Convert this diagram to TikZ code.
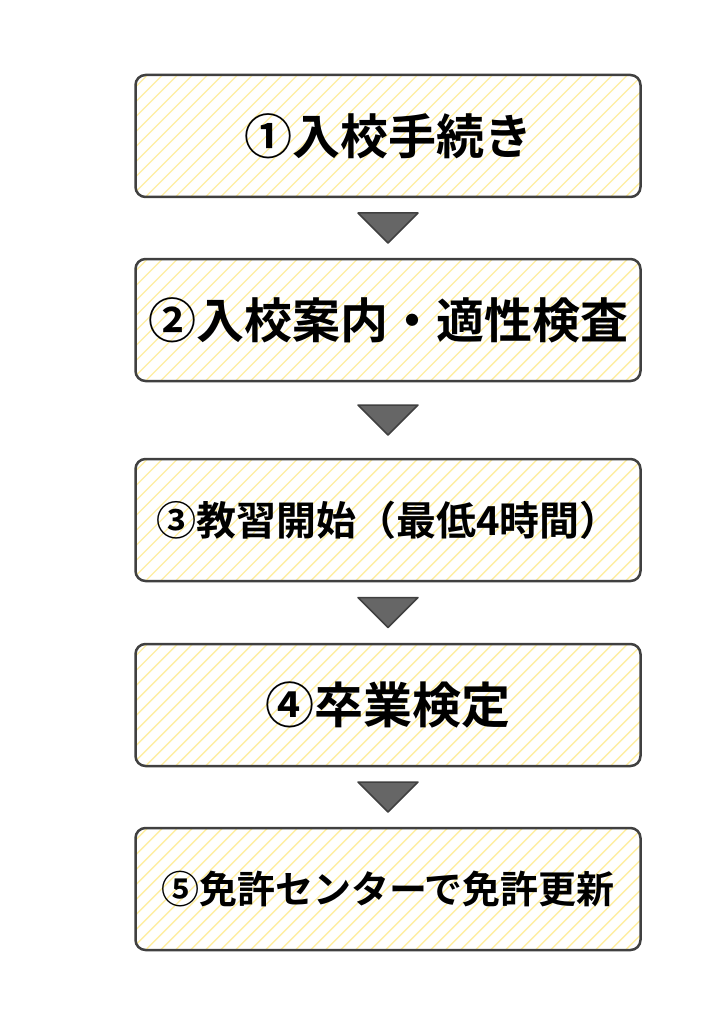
\documentclass[tikz,border=0pt]{standalone}
\usepackage{fontspec}
\newfontfamily\cjk{Noto Sans CJK JP Bold}
\begin{document}
\begin{tikzpicture}[x=1pt,y=-1pt,
  stepbox/.style={draw=black!75,line width=2.5pt,rounded corners=10pt,minimum width=505pt,minimum height=122pt,
    text=black,inner sep=0pt,
    path picture={\foreach \i in {-200,-185,...,700}{\draw[yellow!70!orange!35,line width=1.4pt]
      ([xshift=\i pt]path picture bounding box.south west) -- ++(130pt,130pt);}}},
  tri/.style={draw=black!75,fill=black!60,line width=1.5pt,line join=round}]
\useasboundingbox (0,0) rectangle (724,1024);
\fill[white] (0,0) rectangle (724,1024);
\node[stepbox,font=\cjk\fontsize{48}{56}\selectfont] (s1) at (388,136) {①入校手続き};
\node[stepbox,font=\cjk\fontsize{48}{56}\selectfont] (s2) at (388,320) {②入校案内・適性検査};
\node[stepbox,font=\cjk\fontsize{40}{48}\selectfont] (s3) at (388,520) {③教習開始（最低4時間）};
\node[stepbox,font=\cjk\fontsize{49}{56}\selectfont] (s4) at (388,705) {④卒業検定};
\node[stepbox,font=\cjk\fontsize{38}{46}\selectfont] (s5) at (388,889) {⑤免許センターで免許更新};
\foreach \a/\b in {s1/s2,s2/s3,s3/s4,s4/s5}{
  \path (\a.south) -- (\b.north) coordinate[midway] (m\a);
  \draw[tri] ([xshift=-30pt,yshift=15pt]m\a) -- ([xshift=30pt,yshift=15pt]m\a) -- ([yshift=-15pt]m\a) -- cycle;
}
\end{tikzpicture}
\end{document}
